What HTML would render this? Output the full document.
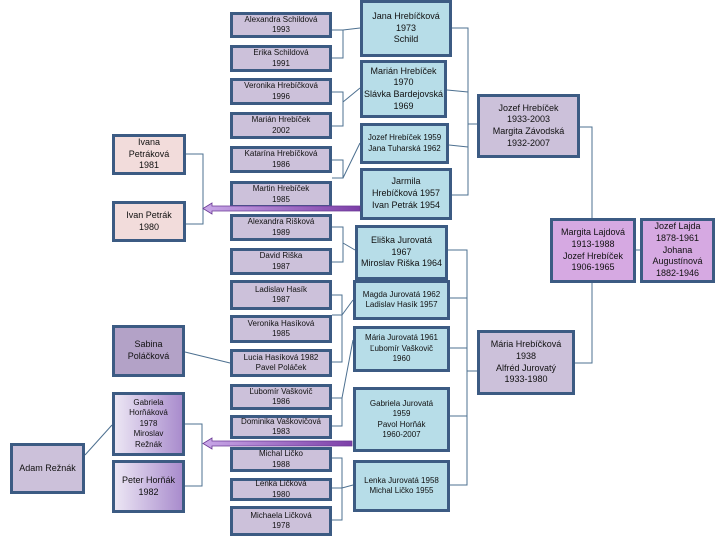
<!DOCTYPE html>
<html><head><meta charset="utf-8"><style>
body{margin:0;width:720px;height:540px;background:#fff;position:relative;overflow:hidden;font-family:"Liberation Sans",sans-serif;}
.b{position:absolute;box-sizing:border-box;border:3px solid #3c5b83;display:flex;align-items:center;justify-content:center;text-align:center;color:#111;line-height:1.3;}
.c{background:#ccc1da;font-size:8px;}
.u{background:#b7dde8;font-size:9px;}
.p{background:#f2dcdb;font-size:9px;}
.g{background:linear-gradient(90deg,#ece6f4,#a98ccd);font-size:8px;}
svg{position:absolute;left:0;top:0;}
</style></head><body>
<svg width="720" height="540" style="z-index:0">
<g stroke="#4d7090" stroke-width="1" fill="none">
<path d="M332 30H343V58H332M343 30L360 28"/>
<path d="M332 92H343V126H332M343 102L360 88"/>
<path d="M332 160H343V178H332M343 178L360 143"/>
<path d="M332 227H343V262H332M343 243L355 250"/>
<path d="M332 295H342V362H332M332 315H342L353 300"/>
<path d="M332 398H342V426H332M342 398L353 340"/>
<path d="M332 458H342V520H332M332 488H342L353 485"/>
<path d="M185 352L230 363"/>
<path d="M85 455L112 425"/>
<path d="M185 424H202V486H185"/>
<path d="M185 154H203V224H185"/>
<path d="M452 28H468V195H452M447 90L468 92M449 145L468 147M468 124H477"/>
<path d="M448 250H467V485H450M450 298H467M450 348H467M450 416H467M467 371H477"/>
<path d="M580 127H592V218M592 283V363H575M636 250H640"/>
</g>
</svg>
<div class="b c" style="left:230px;top:12px;width:102px;height:26px">Alexandra Schildová<br>1993</div>
<div class="b c" style="left:230px;top:45px;width:102px;height:27px">Erika Schildová<br>1991</div>
<div class="b c" style="left:230px;top:78px;width:102px;height:27px">Veronika Hrebíčková<br>1996</div>
<div class="b c" style="left:230px;top:112px;width:102px;height:27px">Marián Hrebíček<br>2002</div>
<div class="b c" style="left:230px;top:146px;width:102px;height:27px">Katarína Hrebíčková<br>1986</div>
<div class="b c" style="left:230px;top:181px;width:102px;height:27px">Martin Hrebíček<br>1985</div>
<div class="b c" style="left:230px;top:214px;width:102px;height:27px">Alexandra Rišková<br>1989</div>
<div class="b c" style="left:230px;top:248px;width:102px;height:27px">David Riška<br>1987</div>
<div class="b c" style="left:230px;top:280px;width:102px;height:30px">Ladislav Hasík<br>1987</div>
<div class="b c" style="left:230px;top:315px;width:102px;height:28px">Veronika Hasíková<br>1985</div>
<div class="b c" style="left:230px;top:349px;width:102px;height:28px">Lucia Hasíková 1982<br>Pavel Poláček</div>
<div class="b c" style="left:230px;top:384px;width:102px;height:26px">Ľubomír Vaškovič<br>1986</div>
<div class="b c" style="left:230px;top:415px;width:102px;height:24px">Dominika Vaškovičová<br>1983</div>
<div class="b c" style="left:230px;top:447px;width:102px;height:25px">Michal Ličko<br>1988</div>
<div class="b c" style="left:230px;top:478px;width:102px;height:23px">Lenka Ličková<br>1980</div>
<div class="b c" style="left:230px;top:506px;width:102px;height:30px">Michaela Ličková<br>1978</div>

<div class="b u" style="left:360px;top:0px;width:92px;height:57px">Jana Hrebíčková<br>1973<br>Schild</div>
<div class="b u" style="left:360px;top:60px;width:87px;height:58px">Marián Hrebíček<br>1970<br>Slávka Bardejovská<br>1969</div>
<div class="b u" style="left:360px;top:123px;width:89px;height:41px;font-size:8px">Jozef Hrebíček 1959<br>Jana Tuharská 1962</div>
<div class="b u" style="left:360px;top:168px;width:92px;height:52px">Jarmila<br>Hrebíčková 1957<br>Ivan Petrák 1954</div>
<div class="b u" style="left:355px;top:225px;width:93px;height:55px">Eliška Jurovatá<br>1967<br>Miroslav Riška 1964</div>
<div class="b u" style="left:353px;top:280px;width:97px;height:40px;font-size:8px">Magda Jurovatá 1962<br>Ladislav Hasík 1957</div>
<div class="b u" style="left:353px;top:326px;width:97px;height:46px;font-size:8px">Mária Jurovatá 1961<br>Ľubomír Vaškovič<br>1960</div>
<div class="b u" style="left:353px;top:387px;width:97px;height:65px;font-size:8px">Gabriela Jurovatá<br>1959<br>Pavol Horňák<br>1960-2007</div>
<div class="b u" style="left:353px;top:460px;width:97px;height:52px;font-size:8px">Lenka Jurovatá 1958<br>Michal Ličko 1955</div>

<div class="b p" style="left:112px;top:134px;width:74px;height:41px">Ivana<br>Petráková<br>1981</div>
<div class="b p" style="left:112px;top:201px;width:74px;height:41px">Ivan Petrák<br>1980</div>
<div class="b" style="left:112px;top:325px;width:73px;height:52px;background:#b3a2c7;font-size:9px">Sabina<br>Poláčková</div>
<div class="b g" style="left:112px;top:392px;width:73px;height:64px">Gabriela<br>Horňáková<br>1978<br>Miroslav<br>Režnák</div>
<div class="b g" style="left:112px;top:460px;width:73px;height:53px;font-size:9px">Peter Horňák<br>1982</div>
<div class="b c" style="left:10px;top:443px;width:75px;height:51px;font-size:9px">Adam Režnák</div>

<div class="b c" style="left:477px;top:94px;width:103px;height:64px;font-size:9px">Jozef Hrebíček<br>1933-2003<br>Margita Závodská<br>1932-2007</div>
<div class="b" style="left:550px;top:218px;width:86px;height:65px;background:#d6a9e2;font-size:9px">Margita Lajdová<br>1913-1988<br>Jozef Hrebíček<br>1906-1965</div>
<div class="b" style="left:640px;top:218px;width:75px;height:65px;background:#d6a9e2;font-size:9px">Jozef Lajda<br>1878-1961<br>Johana<br>Augustínová<br>1882-1946</div>
<div class="b c" style="left:477px;top:330px;width:98px;height:65px;font-size:9px">Mária Hrebíčková<br>1938<br>Alfréd Jurovatý<br>1933-1980</div>

<svg width="720" height="540" style="z-index:5">
<defs><linearGradient id="ag" x1="0" x2="1"><stop offset="0" stop-color="#c9a8e8"/><stop offset="1" stop-color="#7d3fa8"/></linearGradient></defs>
<path d="M212 206H360V211H212V214L203 208.5L212 203Z" fill="url(#ag)" stroke="#6a3a95" stroke-width="0.8"/>
<path d="M212 441H352V446H212V449L203 443.5L212 438Z" fill="url(#ag)" stroke="#6a3a95" stroke-width="0.8"/>
</svg>
</body></html>
